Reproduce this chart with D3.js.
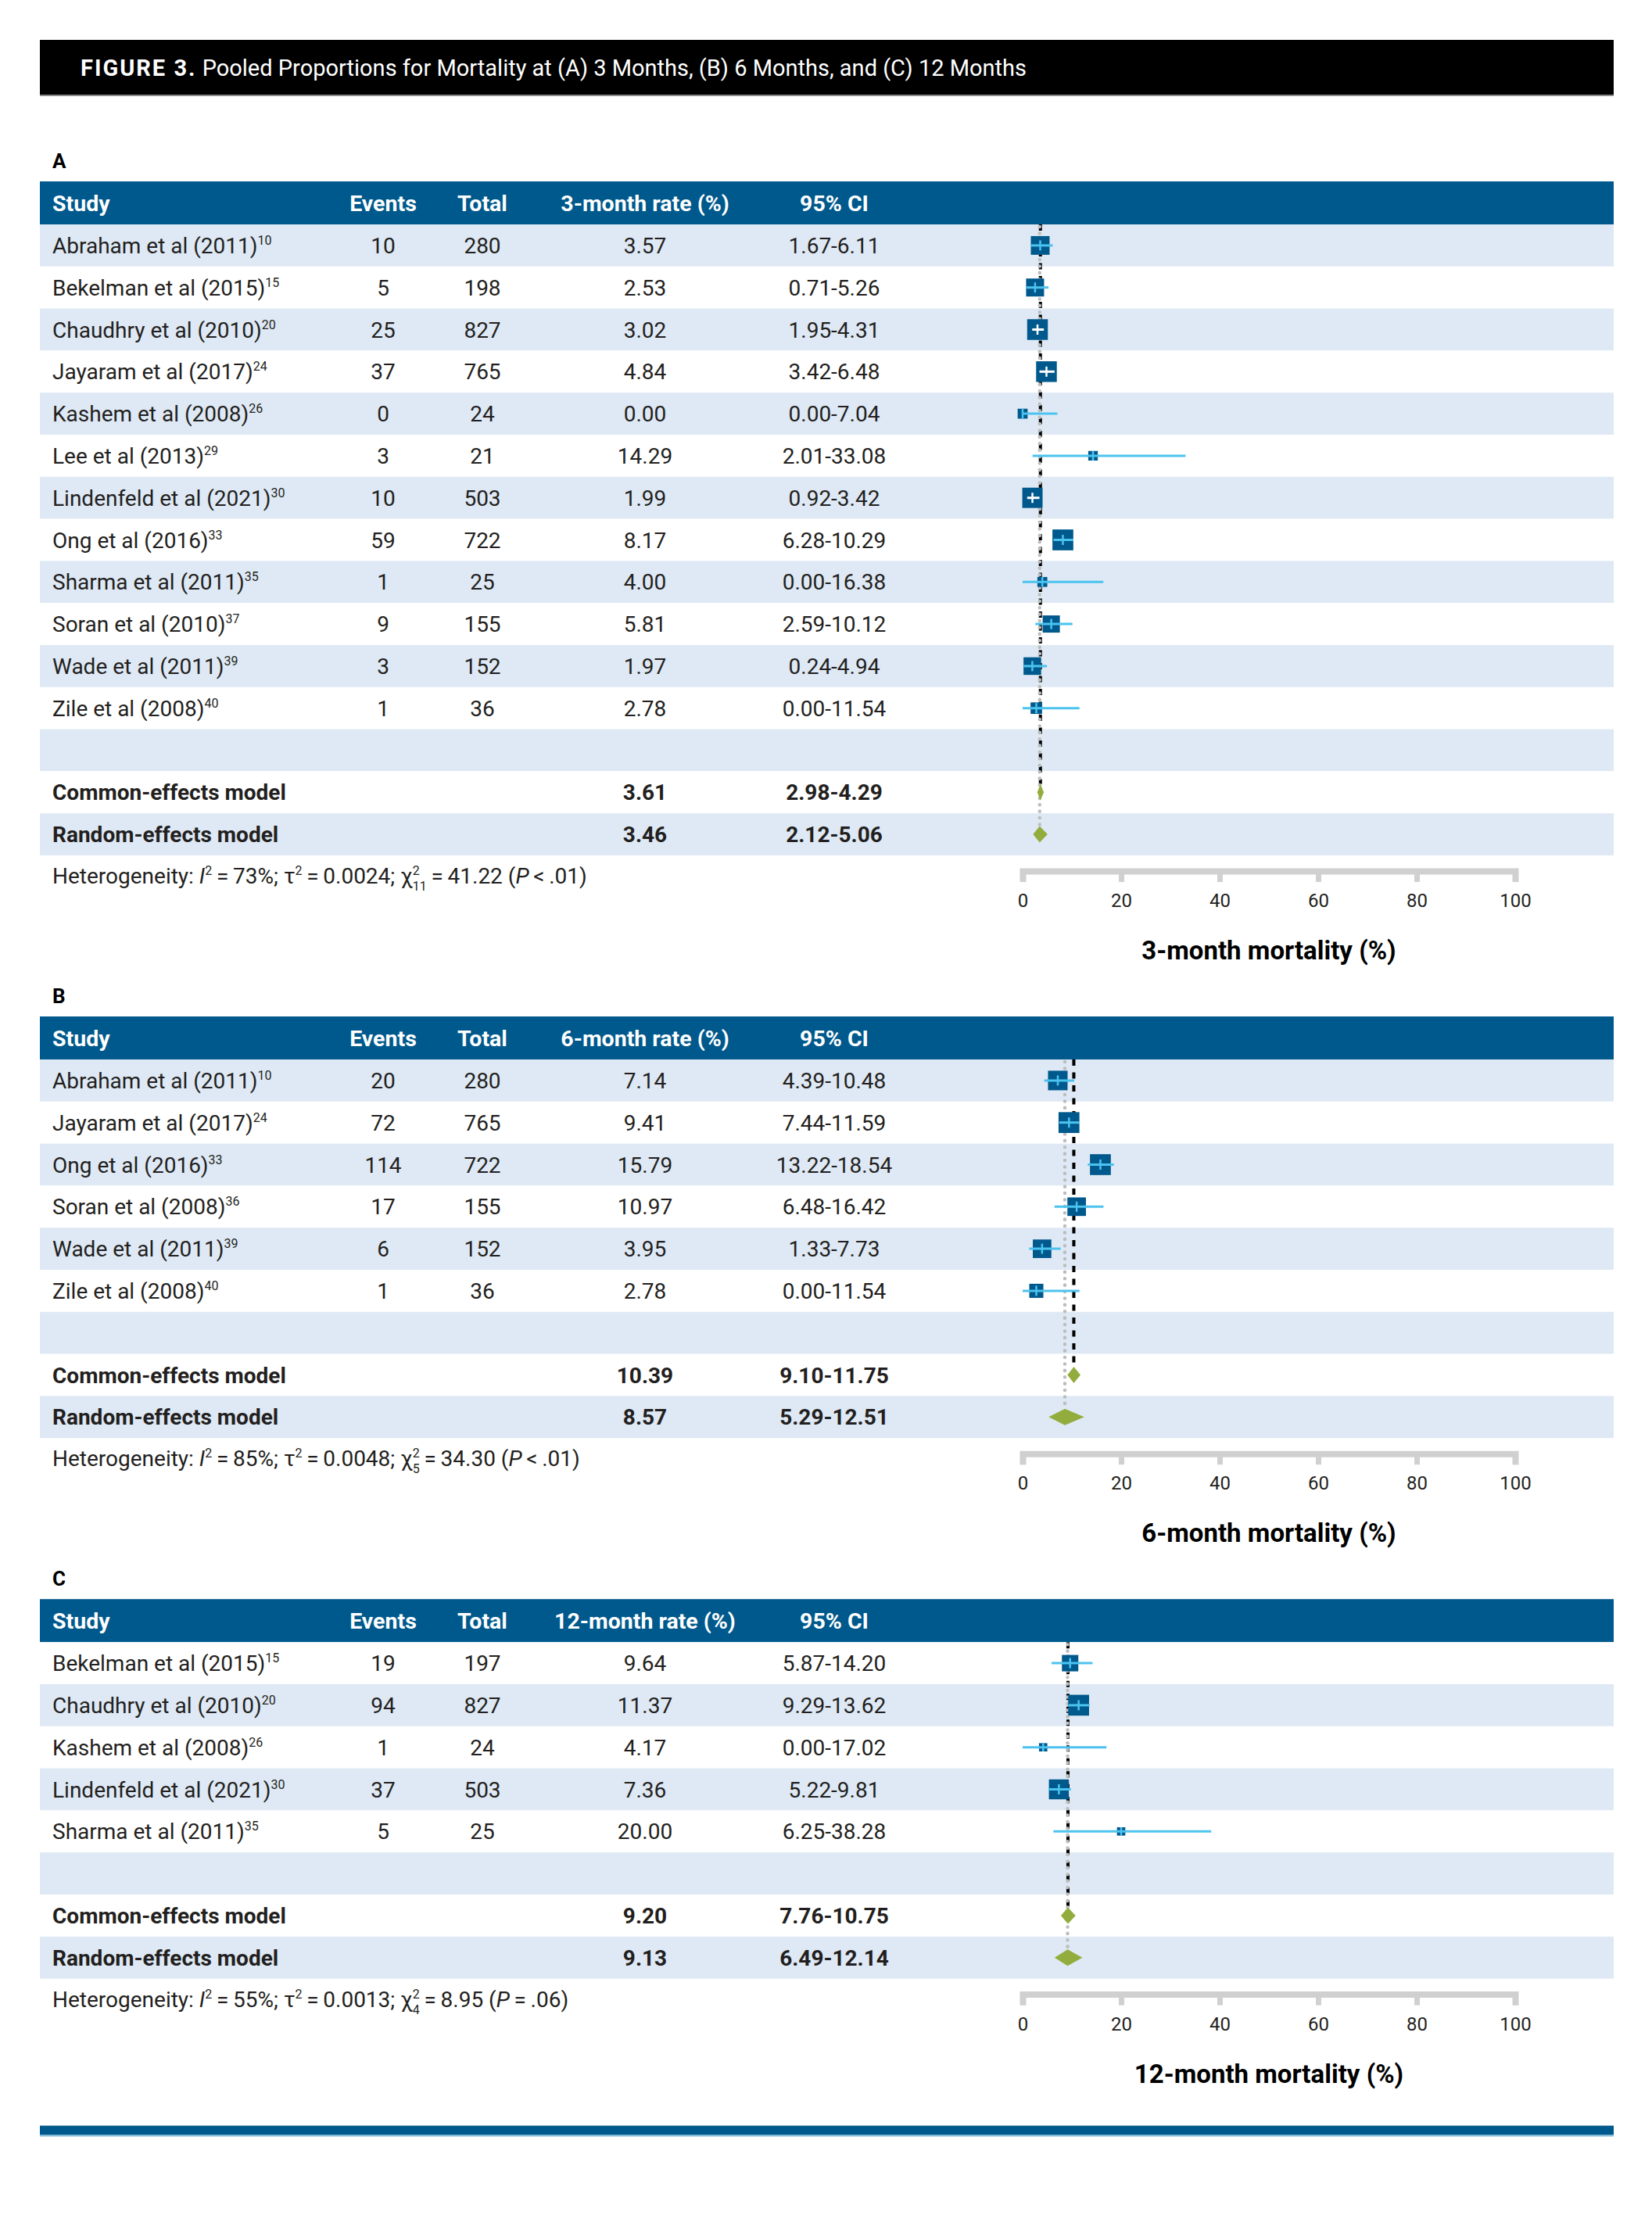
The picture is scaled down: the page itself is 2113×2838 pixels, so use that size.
<!DOCTYPE html>
<html>
<head>
<meta charset="utf-8">
<script src="https://cdn.jsdelivr.net/npm/d3@7"></script>
<style>
  body { margin: 0; background: #fff; }
  text { font-family: Roboto, "Liberation Sans", sans-serif; }
</style>
</head>
<body>
<div id="forest"></div>
<script>
// ---- data: panel A (3 months)
var studiesA = ["Abraham et al (2011)", "Bekelman et al (2015)", "Chaudhry et al (2010)", "Jayaram et al (2017)",
  "Kashem et al (2008)", "Lee et al (2013)", "Lindenfeld et al (2021)", "Ong et al (2016)",
  "Sharma et al (2011)", "Soran et al (2010)", "Wade et al (2011)", "Zile et al (2008)"];
var refsA = ["10", "15", "20", "24", "26", "29", "30", "33", "35", "37", "39", "40"];
var eventsA = [10, 5, 25, 37, 0, 3, 10, 59, 1, 9, 3, 1];
var totalA = [280, 198, 827, 765, 24, 21, 503, 722, 25, 155, 152, 36];
var rateA = [3.57, 2.53, 3.02, 4.84, 0.00, 14.29, 1.99, 8.17, 4.00, 5.81, 1.97, 2.78];
var lowerA = [1.67, 0.71, 1.95, 3.42, 0.00, 2.01, 0.92, 6.28, 0.00, 2.59, 0.24, 0.00];
var upperA = [6.11, 5.26, 4.31, 6.48, 7.04, 33.08, 3.42, 10.29, 16.38, 10.12, 4.94, 11.54];
var weightA = [10.3, 9.5, 12.6, 12.6, 2.9, 2.7, 12.1, 12.8, 2.9, 8.7, 9.1, 3.9];
var commonA = [3.61, 2.98, 4.29];
var randomA = [3.46, 2.12, 5.06];
var hetA = [73, 0.0024, 11, 41.22, "<", ".01"];

// ---- data: panel B (6 months)
var studiesB = ["Abraham et al (2011)", "Jayaram et al (2017)", "Ong et al (2016)", "Soran et al (2008)",
  "Wade et al (2011)", "Zile et al (2008)"];
var refsB = ["10", "24", "33", "36", "39", "40"];
var eventsB = [20, 72, 114, 17, 6, 1];
var totalB = [280, 765, 722, 155, 152, 36];
var rateB = [7.14, 9.41, 15.79, 10.97, 3.95, 2.78];
var lowerB = [4.39, 7.44, 13.22, 6.48, 1.33, 0.00];
var upperB = [10.48, 11.59, 18.54, 16.42, 7.73, 11.54];
var weightB = [17.9, 20.4, 20.4, 16.1, 16.1, 9.3];
var commonB = [10.39, 9.10, 11.75];
var randomB = [8.57, 5.29, 12.51];
var hetB = [85, 0.0048, 5, 34.30, "<", ".01"];

// ---- data: panel C (12 months)
var studiesC = ["Bekelman et al (2015)", "Chaudhry et al (2010)", "Kashem et al (2008)",
  "Lindenfeld et al (2021)", "Sharma et al (2011)"];
var refsC = ["15", "20", "26", "30", "35"];
var eventsC = [19, 94, 1, 37, 5];
var totalC = [197, 827, 24, 503, 25];
var rateC = [9.64, 11.37, 4.17, 7.36, 20.00];
var lowerC = [5.87, 9.29, 0.00, 5.22, 6.25];
var upperC = [14.20, 13.62, 17.02, 9.81, 38.28];
var weightC = [21.7, 35.1, 5.6, 32.0, 5.6];
var commonC = [9.20, 7.76, 10.75];
var randomC = [9.13, 6.49, 12.14];
var hetC = [55, 0.0013, 4, 8.95, "=", ".06"];

var ticks = [0, 20, 40, 60, 80, 100];

var panels = [
  {label: "A", months: "3", studies: studiesA, refs: refsA, events: eventsA, total: totalA, rate: rateA,
   lower: lowerA, upper: upperA, weight: weightA, common: commonA, random: randomA, het: hetA},
  {label: "B", months: "6", studies: studiesB, refs: refsB, events: eventsB, total: totalB, rate: rateB,
   lower: lowerB, upper: upperB, weight: weightB, common: commonB, random: randomB, het: hetB},
  {label: "C", months: "12", studies: studiesC, refs: refsC, events: eventsC, total: totalC, rate: rateC,
   lower: lowerC, upper: upperC, weight: weightC, common: commonC, random: randomC, het: hetC}
];

// ---- layout
var width = 2113, height = 2838;
var left = 51, right = 2064;
var rowH = 53.8, headH = 55;
var blue = "#00598c", stripe = "#dee9f5", ciBlue = "#4cc3ef", green = "#92ad3d", ink = "#231f20";
var f2 = d3.format(".2f"), f4 = d3.format(".4f");

var svg = d3.select("#forest")
  .append("svg")
    .attr("width", width)
    .attr("height", height);

svg.append("rect").attr("width", width).attr("height", height).attr("fill", "#fff");

// title bar
svg.append("rect")
  .attr("x", left).attr("y", 51)
  .attr("width", right - left).attr("height", 71)
  .attr("fill", "#000");
svg.append("rect")
  .attr("x", left).attr("y", 121)
  .attr("width", right - left).attr("height", 2)
  .attr("fill", "#8a8a8a");

var title = svg.append("text")
  .attr("x", 103).attr("y", 97)
  .attr("fill", "#fff")
  .style("font-size", "29px");
title.append("tspan").style("font-weight", "bold").style("letter-spacing", "2px").text("FIGURE 3.");
title.append("tspan").text(" Pooled Proportions for Mortality at (A) 3 Months, (B) 6 Months, and (C) 12 Months");

// x scale shared by all forest plots
var x = d3.scaleLinear().domain([0, 100]).range([1308, 1938]);

var colX = {study: 67, events: 490, total: 617, rate: 825, ci: 1067};

function drawPanel(p, top) {
  var g = svg.append("g");

  // panel letter
  g.append("text")
    .attr("x", 67).attr("y", top - 17)
    .attr("fill", "#000")
    .style("font-size", "26px").style("font-weight", "bold")
    .text(p.label);

  // header
  g.append("rect")
    .attr("x", left).attr("y", top)
    .attr("width", right - left).attr("height", headH)
    .attr("fill", blue);

  var heads = [
    {t: "Study", x: colX.study, a: "start"},
    {t: "Events", x: colX.events, a: "middle"},
    {t: "Total", x: colX.total, a: "middle"},
    {t: p.months + "-month rate (%)", x: colX.rate, a: "middle"},
    {t: "95% CI", x: colX.ci, a: "middle"}
  ];
  g.selectAll(".head")
    .data(heads)
    .enter()
    .append("text")
      .attr("x", function(d) { return d.x; })
      .attr("y", top + headH / 2 + 10)
      .attr("text-anchor", function(d) { return d.a; })
      .attr("fill", "#fff")
      .style("font-size", "28.5px").style("font-weight", "bold")
      .text(function(d) { return d.t; });

  // rows: studies, a blank row, common and random models
  var k = p.studies.length;
  var n = k + 3;
  var y0 = top + headH;
  var y = d3.scaleBand().domain(d3.range(n)).range([y0, y0 + n * rowH]);
  var mid = function(i) { return y(i) + rowH / 2; };

  g.selectAll(".stripe")
    .data(d3.range(n))
    .enter()
    .append("rect")
      .attr("x", left).attr("y", function(i) { return y(i); })
      .attr("width", right - left).attr("height", rowH)
      .attr("fill", function(i) { return (n - 1 - i) % 2 === 0 ? stripe : "#fff"; });

  // study text
  var rows = d3.range(k).map(function(i) {
    return {i: i, name: p.studies[i], ref: p.refs[i], ev: p.events[i], tot: p.total[i],
            rate: p.rate[i], lo: p.lower[i], hi: p.upper[i], w: p.weight[i]};
  });

  var st = g.selectAll(".study")
    .data(rows)
    .enter()
    .append("text")
      .attr("x", colX.study)
      .attr("y", function(d) { return mid(d.i) + 10; })
      .attr("fill", ink)
      .style("font-size", "28px");
  st.append("tspan").text(function(d) { return d.name; });
  st.append("tspan").attr("dy", -11).style("font-size", "16px").text(function(d) { return d.ref; });

  var cells = [];
  rows.forEach(function(d) {
    cells.push({i: d.i, x: colX.events, t: d.ev, b: false});
    cells.push({i: d.i, x: colX.total, t: d.tot, b: false});
    cells.push({i: d.i, x: colX.rate, t: f2(d.rate), b: false});
    cells.push({i: d.i, x: colX.ci, t: f2(d.lo) + "-" + f2(d.hi), b: false});
  });
  cells.push({i: k + 1, x: colX.rate, t: f2(p.common[0]), b: true});
  cells.push({i: k + 1, x: colX.ci, t: f2(p.common[1]) + "-" + f2(p.common[2]), b: true});
  cells.push({i: k + 2, x: colX.rate, t: f2(p.random[0]), b: true});
  cells.push({i: k + 2, x: colX.ci, t: f2(p.random[1]) + "-" + f2(p.random[2]), b: true});

  g.selectAll(".cell")
    .data(cells)
    .enter()
    .append("text")
      .attr("x", function(d) { return d.x; })
      .attr("y", function(d) { return mid(d.i) + 10; })
      .attr("text-anchor", "middle")
      .attr("fill", ink)
      .style("font-size", "28px")
      .style("font-weight", function(d) { return d.b ? "bold" : "normal"; })
      .text(function(d) { return d.t; });

  g.selectAll(".model")
    .data([{i: k + 1, t: "Common-effects model"}, {i: k + 2, t: "Random-effects model"}])
    .enter()
    .append("text")
      .attr("x", colX.study)
      .attr("y", function(d) { return mid(d.i) + 10; })
      .attr("fill", ink)
      .style("font-size", "28px").style("font-weight", "bold")
      .text(function(d) { return d.t; });

  // reference lines for pooled estimates
  var dh = 10.5;
  g.append("line")
    .attr("x1", x(p.common[0])).attr("x2", x(p.common[0]))
    .attr("y1", y0).attr("y2", mid(k + 1) - dh)
    .attr("stroke", "#000").attr("stroke-width", 4)
    .attr("stroke-dasharray", "8,8.5");
  g.append("line")
    .attr("x1", x(p.random[0])).attr("x2", x(p.random[0]))
    .attr("y1", y0 + 3).attr("y2", mid(k + 2) - dh)
    .attr("stroke", "#bdbdbd").attr("stroke-width", 4.5)
    .attr("stroke-linecap", "round")
    .attr("stroke-dasharray", "0.1,8.3");

  // study markers
  var maxW = d3.max(p.weight);
  var side = function(w) { return 26.7 * Math.sqrt(w / maxW); };
  var inside = function(d) {
    var s = side(d.w) / 2, c = x(d.rate);
    return x(d.lo) > c - s + 0.5 && x(d.hi) < c + s - 0.5;
  };

  var mk = g.selectAll(".marker")
    .data(rows)
    .enter()
    .append("g");
  mk.append("rect")
    .attr("x", function(d) { return x(d.rate) - side(d.w) / 2; })
    .attr("y", function(d) { return mid(d.i) - side(d.w) / 2; })
    .attr("width", function(d) { return side(d.w); })
    .attr("height", function(d) { return side(d.w); })
    .attr("fill", blue);
  mk.append("line")
    .attr("x1", function(d) { return x(d.lo); })
    .attr("x2", function(d) { return x(d.hi); })
    .attr("y1", function(d) { return mid(d.i); })
    .attr("y2", function(d) { return mid(d.i); })
    .attr("stroke", function(d) { return inside(d) ? "#fff" : ciBlue; })
    .attr("stroke-width", 3);
  mk.append("line")
    .attr("x1", function(d) { return x(d.rate); })
    .attr("x2", function(d) { return x(d.rate); })
    .attr("y1", function(d) { return mid(d.i) - Math.min(13, side(d.w)) / 2; })
    .attr("y2", function(d) { return mid(d.i) + Math.min(13, side(d.w)) / 2; })
    .attr("stroke", function(d) { return inside(d) ? "#fff" : ciBlue; })
    .attr("stroke-width", 2.5);

  // pooled diamonds
  g.selectAll(".diamond")
    .data([{i: k + 1, v: p.common}, {i: k + 2, v: p.random}])
    .enter()
    .append("path")
      .attr("d", function(d) {
        var c = mid(d.i);
        return "M" + x(d.v[1]) + "," + c + "L" + x(d.v[0]) + "," + (c - dh) +
               "L" + x(d.v[2]) + "," + c + "L" + x(d.v[0]) + "," + (c + dh) + "Z";
      })
      .attr("fill", green);

  var end = y0 + n * rowH;

  // heterogeneity line
  var h = p.het;
  var het = g.append("text")
    .attr("x", 67).attr("y", end + 36)
    .attr("fill", ink)
    .style("font-size", "28px");
  het.append("tspan").text("Heterogeneity: ");
  het.append("tspan").style("font-style", "italic").text("I");
  het.append("tspan").attr("dy", -11).style("font-size", "16px").text("2");
  het.append("tspan").attr("dy", 11).text("\u2009=\u2009" + h[0] + "%; \u03c4");
  het.append("tspan").attr("dy", -11).style("font-size", "16px").text("2");
  het.append("tspan").attr("dy", 11).text("\u2009=\u2009" + f4(h[1]) + "; \u03c7");
  het.append("tspan").attr("dy", -11).style("font-size", "16px").text("2");
  het.append("tspan").attr("dx", -9).attr("dy", 20).style("font-size", "16px").text(h[2]);
  het.append("tspan").attr("dy", -9).text("\u2009=\u2009" + f2(h[3]) + " (");
  het.append("tspan").style("font-style", "italic").text("P");
  het.append("tspan").text("\u2009" + h[4] + "\u2009" + h[5] + ")");

  // x axis
  var axis = d3.axisBottom(x).tickValues(ticks).tickSize(14).tickSizeOuter(14).tickFormat(d3.format("d"));
  var ag = g.append("g")
    .attr("transform", "translate(0," + (end + 20) + ")")
    .call(axis)
    .attr("font-family", null).attr("font-size", null);
  ag.select(".domain").attr("stroke", "#d0d0d0").attr("stroke-width", 8).attr("fill", "none");
  ag.selectAll(".tick line").attr("stroke", "#d0d0d0").attr("stroke-width", 7);
  ag.selectAll(".tick text")
    .attr("y", 46).attr("dy", null)
    .attr("fill", ink)
    .style("font-size", "24px");

  g.append("text")
    .attr("x", x(50)).attr("y", end + 133)
    .attr("text-anchor", "middle")
    .attr("fill", "#000")
    .style("font-size", "33px").style("font-weight", "bold")
    .text(p.months + "-month mortality (%)");

  return end;
}

var panelTop = 232, panelEnd = 0;
panels.forEach(function(p) {
  panelEnd = drawPanel(p, panelTop);
  panelTop = panelEnd + 206;
});

// closing rule
svg.append("rect")
  .attr("x", left).attr("y", panelEnd + 188)
  .attr("width", right - left).attr("height", 12)
  .attr("fill", blue);
svg.append("rect")
  .attr("x", left).attr("y", panelEnd + 200)
  .attr("width", right - left).attr("height", 2)
  .attr("fill", "#8fc3e0");
</script>
</body>
</html>
